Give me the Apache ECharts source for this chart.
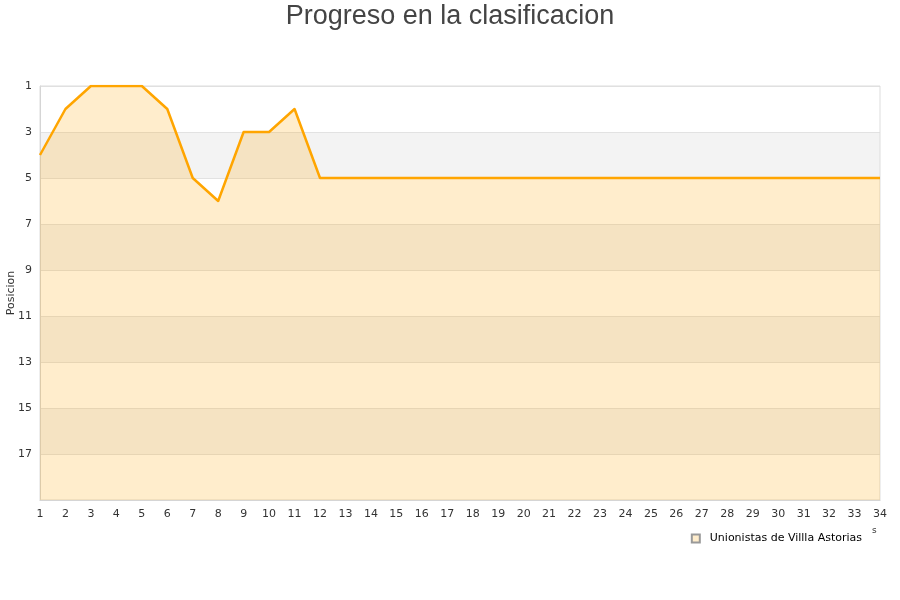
<!DOCTYPE html>
<html><head><meta charset="utf-8">
<script src="https://cdn.jsdelivr.net/npm/echarts@6/dist/echarts.min.js"></script>
<style>html,body{margin:0;padding:0;background:#fff}#c{width:900px;height:600px}</style>
</head><body><div id="c"></div>
<script>
const titleText = 'Progreso en la clasificacion';
const seriesName = 'Unionistas de Villla Astorias';
const yAxisName = 'Posicion';
const jornadas = Array.from({length:34}, (_, i) => String(i + 1));
const posiciones = [4,2,1,1,1,2,5,6,3,3,2,5,5,5,5,5,5,5,5,5,5,5,5,5,5,5,5,5,5,5,5,5,5,5];
const yTicks = [1,3,5,7,9,11,13,15,17];

const chart = echarts.init(document.getElementById('c'));
chart.setOption({
  animation: false,
  title: { text: titleText, left: 'center', top: -2,
    textStyle: { fontFamily: 'Liberation Sans', fontSize: 27, fontWeight: 'normal', color: '#444' } },
  grid: { left: 40, right: 20, top: 86, bottom: 100, outerBoundsMode: 'none', containLabel: false },
  legend: { data: [seriesName], right: 33, top: 528, icon: 'rect', itemWidth: 8, itemHeight: 8,
    textStyle: { fontFamily: 'DejaVu Sans', fontSize: 11, color: '#000', padding: [0, 0, 0, 5] } },
  xAxis: { type: 'category', data: jornadas, boundaryGap: false,
    axisLine: { lineStyle: { color: '#ccc' } }, axisTick: { show: false },
    axisLabel: { fontFamily: 'DejaVu Sans', fontSize: 11, color: '#333', margin: 9, interval: 0 },
    splitLine: { show: false } },
  yAxis: { type: 'value', inverse: true, min: 1, max: 19, interval: 2,
    axisLine: { show: true, lineStyle: { color: '#ccc' } }, axisTick: { show: false },
    axisLabel: { fontFamily: 'DejaVu Sans', fontSize: 11, color: '#333', margin: 8,
      formatter: v => yTicks.includes(v) ? String(v) : '' },
    splitLine: { show: true, lineStyle: { color: '#e2e2e2' } },
    splitArea: { show: true, areaStyle: { color: ['#ffffff', '#f3f3f3'] } } },
  graphic: [
    { type: 'rect', shape: { x: 40, y: 86, width: 840, height: 414 }, style: { fill: 'none', stroke: '#ddd', lineWidth: 1 }, silent: true, z: 10 },
    { type: 'text', x: 11, y: 293, rotation: Math.PI / 2,
      style: { text: yAxisName, fontFamily: 'DejaVu Sans', fontSize: 11, fill: '#333', align: 'center', verticalAlign: 'middle' } },
    { type: 'text', left: 872, top: 526, style: { text: 's', fontFamily: 'DejaVu Sans', fontSize: 9, fill: '#333' } }
  ],
  series: [{
    name: seriesName, type: 'line', data: posiciones, showSymbol: false, smooth: false,
    lineStyle: { color: '#ffa500', width: 2.5, join: 'round' },
    itemStyle: { color: '#ffedcc', borderColor: '#999', borderWidth: 1 },
    areaStyle: { color: 'rgba(255,165,0,0.2)', opacity: 1, origin: 'end' }, z: 20
  }]
});
</script></body></html>
